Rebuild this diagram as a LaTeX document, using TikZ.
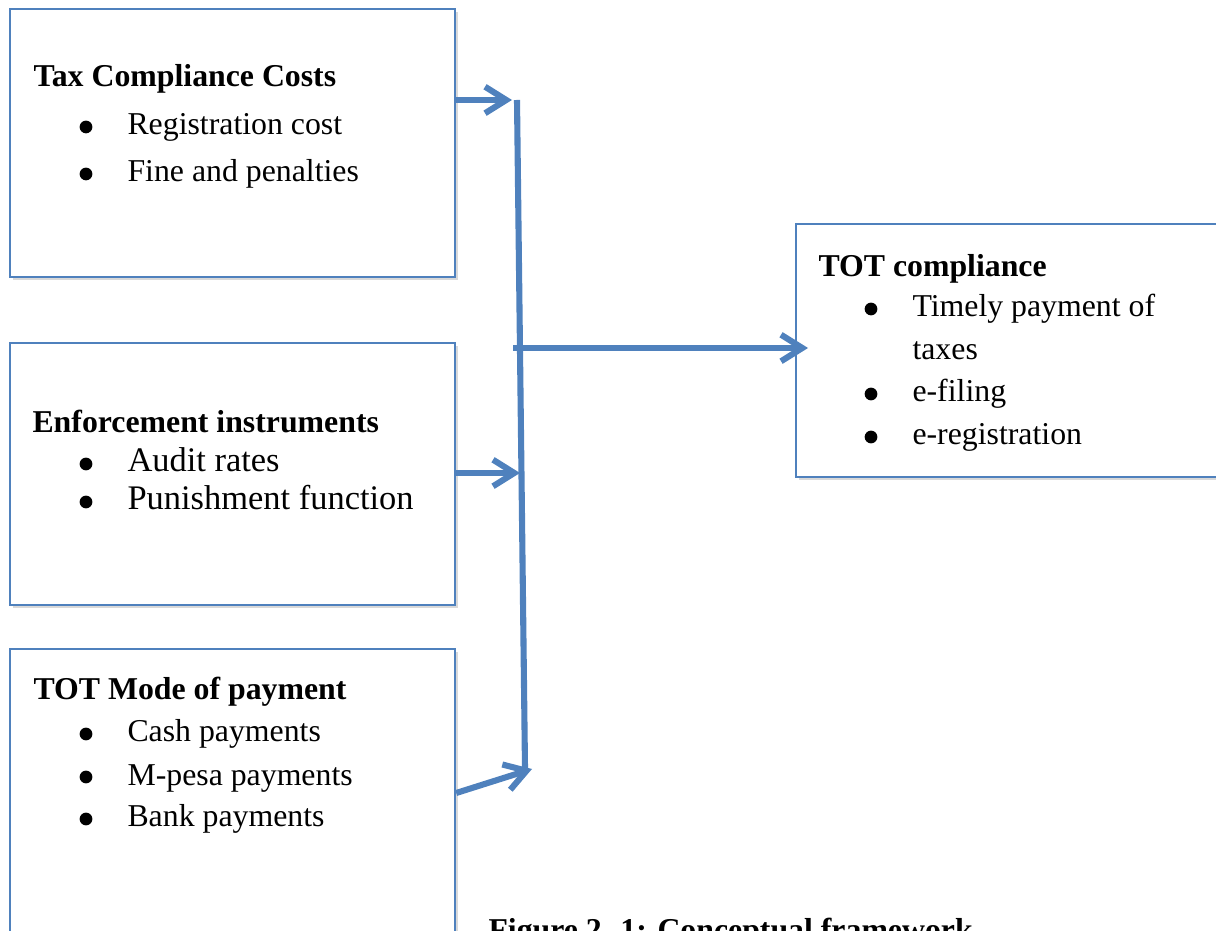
\documentclass[tikz,border=0pt]{standalone}
\usepackage{fontspec}
\setmainfont{Liberation Serif}
\usetikzlibrary{arrows.meta,fit,shadows}
\definecolor{blue1}{RGB}{79,129,189}

\begin{document}
\begin{tikzpicture}[x=0.3774pt,y=-0.3774pt,>={Straight Barb[length=8pt,width=10pt]},
    font=\fontsize{12}{14}\selectfont,
    box/.style={draw=blue1,line width=0.9pt,fill=white,inner sep=0pt,
      drop shadow={opacity=0.3,shadow xshift=1.2pt,shadow yshift=-1.2pt}},
    head/.style={anchor=base west,inner sep=0pt,font=\fontsize{12}{14}\selectfont\bfseries},
    item/.style={anchor=base west,inner sep=0pt},
    dot/.style={circle,fill=black,inner sep=0pt,minimum size=4.8pt},
    flow/.style={->,draw=blue1,line width=2.3pt}]
    \useasboundingbox (0,0) rectangle (1216,931);

    % boxes
    \node[box,fit={(10,9) (455,277)}] (tcc) {};
    \node[box,fit={(10,343) (455,605)}] (enf) {};
    \node[box,fit={(10,649) (455,950)}] (mop) {};
    \node[box,fit={(796,224) (1235,477)}] (toc) {};

    % texts
    \node[head] (tcchead) at (33,87) {Tax Compliance Costs};
    \foreach \y/\t [count=\i] in {135/Registration cost,182/Fine and penalties}{
      \node[dot] (tccdot\i) at (86,\y-8) {};
      \node[item] (tccitem\i) at (127,\y) {\t};
    }
    \node[head] (enfhead) at (32,433) {Enforcement instruments};
    \foreach \y/\t [count=\i] in {472/Audit rates,510/Punishment function}{
      \node[dot] (enfdot\i) at (86,\y-8) {};
      \node[item,font=\fontsize{13}{15}\selectfont] (enfitem\i) at (127,\y) {\t};
    }
    \node[head] (mophead) at (33,700) {TOT Mode of payment};
    \foreach \y/\t [count=\i] in {742/Cash payments,785/M-pesa payments,827/Bank payments}{
      \node[dot] (mopdot\i) at (86,\y-8) {};
      \node[item] (mopitem\i) at (127,\y) {\t};
    }
    \node[head] (tochead) at (818,277) {TOT compliance};
    \node[dot] (tocdot1) at (871,309) {};
    \node[item] (tocitem1) at (912,317) {Timely payment of};
    \node[item] (tocitem1b) at (912,360) {taxes};
    \node[dot] (tocdot2) at (871,394) {};
    \node[item] (tocitem2) at (912,402) {e-filing};
    \node[dot] (tocdot3) at (871,437) {};
    \node[item] (tocitem3) at (912,445) {e-registration};

    % bus and arrows
    \coordinate (bt) at (517,100);
    \coordinate (bb) at (525,768);
    \coordinate (j1) at (512,100);
    \coordinate (j2) at (520,473);
    \coordinate (j3) at (532,769);
    \coordinate (b4) at (513,348);
    \coordinate (t4) at (808,348);
    \draw[blue1,line width=2.3pt] (bt) -- (bb);
    \draw[flow] (tcc.east |- j1) -- (j1);
    \draw[flow] (enf.east |- j2) -- (j2);
    \draw[flow] (mop.east |- 0,793) -- (j3);
    \draw[flow] (b4) -- (t4);

    \node[head] (caption) at (488,940) {Figure 2. 1: Conceptual framework};
\end{tikzpicture}
\end{document}
